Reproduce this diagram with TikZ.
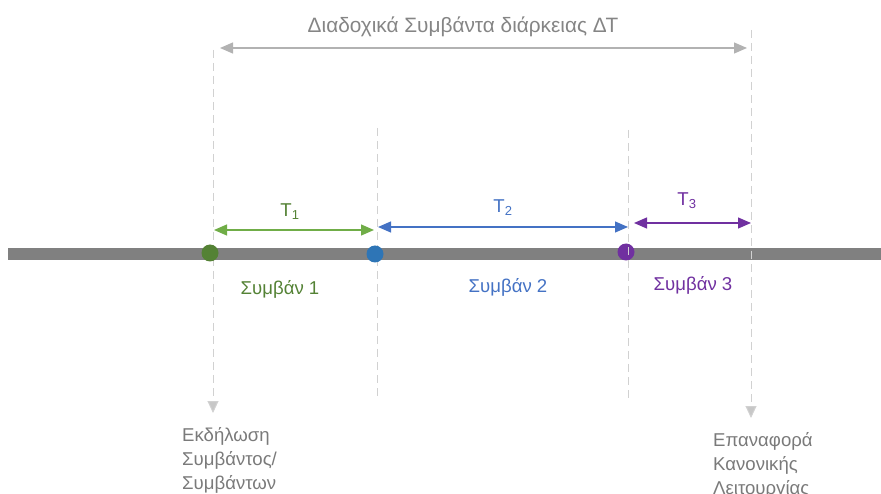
\documentclass[tikz,border=0pt]{standalone}
\usepackage{fontspec}
\setmainfont{Liberation Sans}
\usepackage{xcolor}
\usepackage{tikz}
\usetikzlibrary{arrows.meta}
\definecolor{evgreen}{HTML}{548235}
\definecolor{arrgreen}{HTML}{70AD47}
\definecolor{evblue}{HTML}{2E75B6}
\definecolor{arrblue}{HTML}{4472C4}
\definecolor{evpurple}{HTML}{7030A0}
\tikzstyle{axis}=[line width=12pt,draw=gray!100]
\tikzstyle{guide}=[line width=1pt,draw=black!18,dash pattern=on 8pt off 5pt]
\tikzstyle{event}=[circle,inner sep=0pt,minimum size=17pt]
\tikzstyle{span}=[line width=1.2pt,{Triangle[length=13pt,width=11pt]}-{Triangle[length=13pt,width=11pt]}]
\tikzstyle{down}=[-{Triangle[length=12pt,width=11pt,fill=black!22]}]
\tikzstyle{label}=[font=\fontsize{18.6}{22}\selectfont,inner sep=0pt]
\tikzstyle{note}=[font=\fontsize{18.6}{24}\selectfont,text=black!52,align=left,anchor=north west,inner sep=0pt]

\begin{document}
\begin{tikzpicture}[x=1pt,y=-1pt]
        \useasboundingbox (0,0) rectangle (881,494);

        % time axis
        \coordinate (ax0) at (8,254);
        \coordinate (ax1) at (881,254);
        \draw [axis] (ax0) -- (ax1);

        % guide lines
        \coordinate (g1t) at (213,50);  \coordinate (g1b) at (213,413);
        \coordinate (g2t) at (377,128); \coordinate (g2b) at (377,398);
        \coordinate (g3t) at (628,130); \coordinate (g3b) at (628,398);
        \coordinate (g4t) at (751,30);  \coordinate (g4b) at (751,418);
        \draw [guide,down] (g1t) -- (g1b);
        \draw [guide] (g2t) -- (g2b);
        \draw [guide,down] (g4t) -- (g4b);

        % events
        \node at (210,253) [event,fill=evgreen]  (e1) {};
        \node at (375,254) [event,fill=evblue]   (e2) {};
        \node at (626,252) [event,fill=evpurple] (e3) {};
        \draw [guide] (g3t) -- (g3b);

        % durations
        \coordinate (t1a) at (214,230); \coordinate (t1b) at (374,230);
        \coordinate (t2a) at (378,227); \coordinate (t2b) at (628,227);
        \coordinate (t3a) at (634,223); \coordinate (t3b) at (751,223);
        \coordinate (dta) at (220,48);  \coordinate (dtb) at (747,48);
        \draw [span,draw=arrgreen,fill=arrgreen]  (t1a) -- (t1b);
        \draw [span,draw=arrblue,fill=arrblue]    (t2a) -- (t2b);
        \draw [span,draw=evpurple,fill=evpurple]  (t3a) -- (t3b);
        \draw [span,draw=black!30,fill=black!30]  (dta) -- (dtb);

        \node at (290,212) [label,text=evgreen]  (l1) {T\textsubscript{1}};
        \node at (503,208) [label,text=arrblue]  (l2) {T\textsubscript{2}};
        \node at (687,201) [label,text=evpurple] (l3) {T\textsubscript{3}};
        \node at (463,27) [label,text=black!48,font=\fontsize{20.8}{24}\selectfont] (dt) {Διαδοχικά Συμβάντα διάρκειας ΔΤ};

        \node at (280,289) [label,text=evgreen]  (s1) {Συμβάν 1};
        \node at (508,287) [label,text=arrblue]  (s2) {Συμβάν 2};
        \node at (693,285) [label,text=evpurple] (s3) {Συμβάν 3};

        \node at (182,427) [note] (start) {Εκδήλωση\\Συμβάντος/\\Συμβάντων};
        \node at (713,432) [note] (end) {Επαναφορά\\Κανονικής\\Λειτουργίας};
      \end{tikzpicture}
\end{document}
